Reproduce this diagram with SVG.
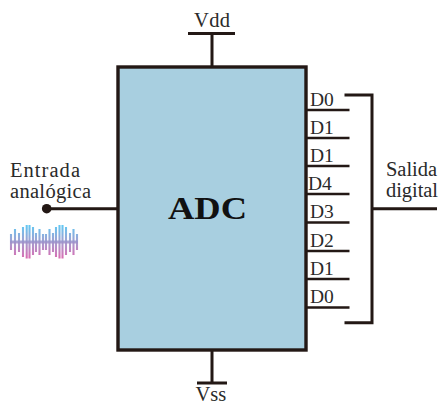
<svg xmlns="http://www.w3.org/2000/svg" width="442" height="405" viewBox="0 0 442 405">
<style>
text{font-family:"Liberation Serif","Times New Roman",serif;fill:#2a2a2a;font-size:20.5px}
.l{stroke:#231815;stroke-width:3;fill:none}
.o{stroke:#231815;stroke-width:2.6;fill:none}
.d{font-size:19.5px}
</style>
<defs>
<linearGradient id="w" gradientUnits="userSpaceOnUse" x1="0" y1="225" x2="0" y2="259">
<stop offset="0" stop-color="#4fc3f2"/><stop offset="0.5" stop-color="#9b93cb"/><stop offset="1" stop-color="#d85aa8"/>
</linearGradient>
</defs>
<g id="adc">
<rect x="118" y="67" width="188" height="283" fill="#a8cfe0" stroke="#231815" stroke-width="3.4"/>
<text transform="translate(168 219) scale(1.14 1)" style="font-size:32px;font-weight:bold;fill:#111">ADC</text>
</g>
<g id="vdd">
<text x="194" y="27" textLength="36" lengthAdjust="spacing">Vdd</text>
</g>
<g id="vss">
<text x="195.500" y="400.500">Vss</text>
</g>
<g id="entrada">
<text x="10" y="176.500" textLength="70" lengthAdjust="spacing">Entrada</text>
<text x="10" y="197.500" textLength="81" lengthAdjust="spacing">analógica</text>
<circle cx="46.700" cy="208.700" r="4.800" fill="#231815"/>
</g>
<g id="onda">
<path stroke="url(#w)" stroke-width="2.100" fill="none" opacity="0.9" d="M11 234V250M15 229V255M19 233V252M23 227V257M26.700 225V258.500M29.500 225V258.500M33 227V255M36 233V252M39.500 229V255M43 234V250M46 234V250M49.500 229V255M53 233V252M56 227V257M59.500 225V258.500M62.500 225V258.500M66 227V255M70 233V252M73.500 229V255M77 234V250"/>
<path stroke="url(#w)" stroke-width="3" fill="none" opacity="0.85" d="M10 242H78"/>
</g>
<g id="salida">
<text x="386" y="176" textLength="51" lengthAdjust="spacing">Salida</text>
<text x="386" y="197" textLength="52" lengthAdjust="spacing">digital</text>
</g>
<g id="bits">
<text class="d" x="310" y="106">D0</text>
<text class="d" x="310" y="134">D1</text>
<text class="d" x="310" y="162">D1</text>
<text class="d" x="308" y="190">D4</text>
<text class="d" x="310" y="218">D3</text>
<text class="d" x="310" y="247">D2</text>
<text class="d" x="310" y="275">D1</text>
<text class="d" x="310" y="303">D0</text>
</g>
<g id="connectors">
<path class="l" d="M212 34V67M188 33.500H235M212 350V383M197 383H227M47 208.700H118"/>
<path class="o" d="M306 110H349.500M306 138H349.500M306 166H349.500M306 194H349.500M306 222.500H349.500M306 251H349.500M306 279H349.500M306 307.500H349.500"/>
<path class="l" d="M344.500 95H372V322.700H344.500M372 208.700H437"/>
</g>
</svg>
